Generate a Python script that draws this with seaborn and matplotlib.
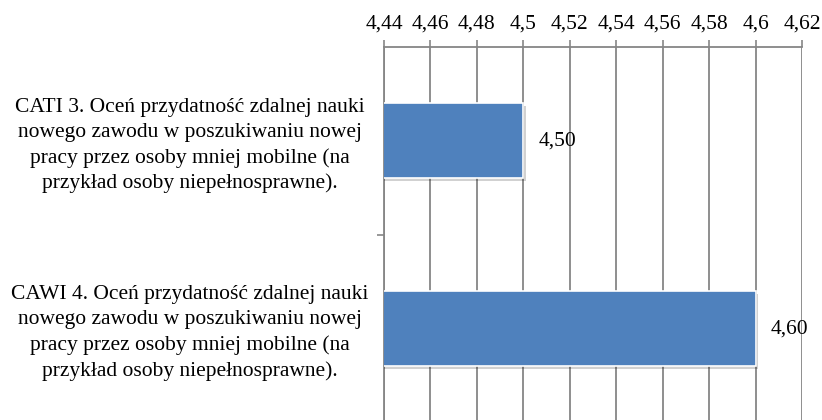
import matplotlib
matplotlib.use("Agg")
import matplotlib.pyplot as plt
import matplotlib.patheffects as pe
import matplotlib.transforms as mtransforms
from matplotlib.ticker import FixedLocator, FuncFormatter
import seaborn as sns
import pandas as pd

categories = [
    "CATI 3. Oceń przydatność zdalnej nauki\nnowego zawodu w poszukiwaniu nowej\npracy przez osoby mniej mobilne (na\nprzykład osoby niepełnosprawne).",
    "CAWI 4. Oceń przydatność zdalnej nauki\nnowego zawodu w poszukiwaniu nowej\npracy przez osoby mniej mobilne (na\nprzykład osoby niepełnosprawne).",
]
values = [4.50, 4.60]
x_ticks = [4.44, 4.46, 4.48, 4.50, 4.52, 4.54, 4.56, 4.58, 4.60, 4.62]

df = pd.DataFrame({"kategoria": categories, "wartosc": values})

sns.set_theme(style="white")
plt.rcParams["font.family"] = ["Liberation Serif", "DejaVu Serif"]

fig = plt.figure(figsize=(8.22, 4.2), dpi=100)
ax = fig.add_axes([384 / 822, -0.006, 418 / 822, 1 - 47 / 420 + 0.006])

bar_color = "#4F81BD"
grid_color = "#868686"

sns.barplot(data=df, x="wartosc", y="kategoria", orient="h", color=bar_color,
            saturation=1, width=0.4, ax=ax, zorder=3)

for patch in ax.patches:
    patch.set_edgecolor("white")
    patch.set_linewidth(1.2)
    patch.set_path_effects([
        pe.SimplePatchShadow(offset=(2, -2), shadow_rgbFace="#000000", alpha=0.18),
        pe.Normal(),
    ])

ax.set_xlim(x_ticks[0], x_ticks[-1])
ax.set_ylim(1.5, -0.5)

# Value axis on top, decimal comma, trailing zeros dropped
ax.xaxis.tick_top()
ax.xaxis.set_major_locator(FixedLocator(x_ticks))
ax.xaxis.set_major_formatter(FuncFormatter(
    lambda v, _: f"{v:.2f}".rstrip("0").rstrip(".").replace(".", ",")))
ax.tick_params(axis="x", which="major", direction="out", length=5, width=1.2,
               color=grid_color, labelsize=15.5, pad=5, labelcolor="black")

ax.grid(axis="x", color=grid_color, linewidth=1.3, zorder=0)
ax.set_axisbelow(True)

# Category labels as centred text blocks, separator tick between categories
ax.tick_params(axis="y", which="major", length=0, labelleft=False)
ax.yaxis.set_minor_locator(FixedLocator([0.5]))
ax.tick_params(axis="y", which="minor", left=True, direction="out", length=5,
               width=1.2, color=grid_color)
label_tf = mtransforms.blended_transform_factory(fig.transFigure, ax.transData)
for i, cat in enumerate(categories):
    ax.text(190 / 822, i + 0.025, cat, transform=label_tf, ha="center",
            va="center", multialignment="center", linespacing=1.42,
            fontsize=15.5, color="black", clip_on=False)

ax.set_xlabel("")
ax.set_ylabel("")

for side in ["right", "bottom"]:
    ax.spines[side].set_visible(False)
for side in ["left", "top"]:
    ax.spines[side].set_color(grid_color)
    ax.spines[side].set_linewidth(1.3)

for i, v in enumerate(values):
    ax.text(v + 0.0066, i, f"{v:.2f}".replace(".", ","), va="center", ha="left",
            fontsize=15.5, color="black")

fig.savefig("out.png", dpi=100)
